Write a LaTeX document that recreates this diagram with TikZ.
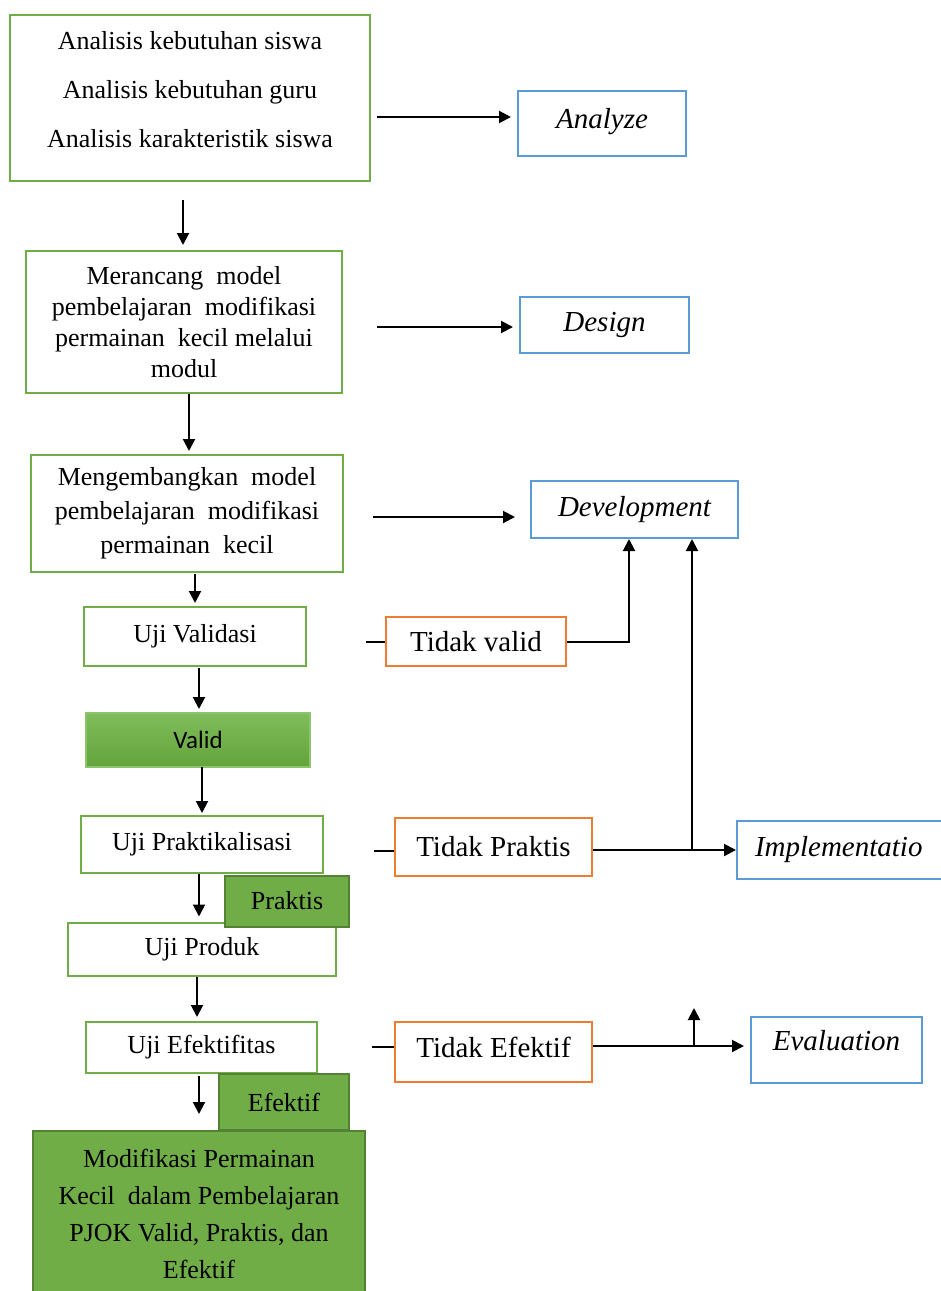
\documentclass[tikz,border=0pt]{standalone}
\usepackage{fontspec}
\setmainfont{Liberation Serif}
\newfontfamily\calfont{Carlito}
\usetikzlibrary{arrows.meta}
\definecolor{gb}{RGB}{112,173,71}
\definecolor{bb}{RGB}{91,155,213}
\definecolor{ob}{RGB}{237,125,49}
\definecolor{gfill}{RGB}{112,173,71}
\definecolor{gdark}{RGB}{84,130,53}
\definecolor{vtop}{RGB}{128,188,92}
\definecolor{vbot}{RGB}{99,164,58}
\definecolor{vedge}{RGB}{140,196,108}
\begin{document}
\begin{tikzpicture}[x=1pt,y=-1pt,
  base/.style={rectangle, inner sep=0pt, line width=2pt, align=center},
  gbox/.style={base, draw=gb, fill=white, font=\fontsize{26}{31}\selectfont},
  bbox/.style={base, draw=bb, fill=white, font=\itshape\fontsize{29}{34}\selectfont},
  obox/.style={base, draw=ob, fill=white, font=\fontsize{29}{34}\selectfont},
  fbox/.style={base, draw=gdark, fill=gfill, font=\fontsize{26}{31}\selectfont},
  sz/.style 2 args={minimum width=#1pt, minimum height=#2pt},
  arr/.style={line width=2pt, -{Triangle[length=12pt,width=12pt]}},
  ln/.style={line width=2pt}
]
\useasboundingbox (0,0) rectangle (941,1291);
\clip (0,0) rectangle (941,1291);

% left column
\node[gbox, sz={360}{166}] (A) at (190,98) {};
\node[base, font=\fontsize{26}{49}\selectfont] (Atext) at (190,90)
  {Analisis kebutuhan siswa\\Analisis kebutuhan guru\\Analisis karakteristik siswa};
\node[gbox, sz={316}{142}] (B) at (184,322)
  {Merancang\ \ model\\pembelajaran\ \ modifikasi\\permainan\ \ kecil melalui\\modul};
\node[gbox, sz={312}{117}, font=\fontsize{26}{34}\selectfont] (C) at (187,513.5)
  {Mengembangkan\ \ model\\pembelajaran\ \ modifikasi\\permainan\ \ kecil};
\node[gbox, sz={222}{59}] (UV) at (195,636.5) {Uji Validasi};
\node[base, draw=vedge, top color=vtop, bottom color=vbot, sz={224}{54},
  font=\calfont\fontsize{25}{30}\selectfont] (Valid) at (198,740) {Valid};
\node[gbox, sz={242}{57}] (UP) at (202,844.5) {Uji Praktikalisasi};
\node[gbox, sz={268}{53}] (UPr) at (202,949) {Uji Produk};
\node[fbox, sz={124}{51}] (Pr) at (287,901) {Praktis};
\node[gbox, sz={231}{51}] (UE) at (201.5,1047.5) {Uji Efektifitas};
\node[fbox, sz={130}{56}] (Ef) at (284,1102) {Efektif};
\node[fbox, sz={332}{166}, font=\fontsize{26}{37}\selectfont] (Final) at (199,1214)
  {Modifikasi Permainan\\Kecil\ \ dalam Pembelajaran\\PJOK Valid, Praktis, dan\\Efektif};

% right column
\node[bbox, sz={168}{65}, text height=20pt, text depth=11pt] (Analyze) at (602,123.5) {Analyze};
\node[bbox, sz={169}{56}] (Design) at (604.5,325) {Design};
\node[bbox, sz={207}{57}] (Dev) at (634.5,509.5) {Development};
\node[obox, sz={180}{49}] (TV) at (476,641.5) {Tidak valid};
\node[obox, sz={197}{58}] (TP) at (493.5,847) {Tidak Praktis};
\node[bbox, minimum height=58pt, text width=205pt, align=left, inner xsep=18pt,
  anchor=west] (Impl) at (736,849.5) {Implementatio};
\node[obox, sz={197}{60}, text height=20pt, text depth=10pt] (TE) at (493.5,1052) {Tidak Efektif};
\node[bbox, sz={171}{66}, text height=19pt, text depth=19pt] (Eval) at (836.5,1050) {Evaluation};

% connectors
\coordinate (pA) at (377,117);
\draw[arr, shorten >=6pt] (pA) -- (Analyze.west |- pA);
\coordinate (pB) at (183,200);
\draw[arr, shorten >=5pt] (pB) -- (pB |- B.north);
\coordinate (pD) at (377,327);
\draw[arr, shorten >=6pt] (pD) -- (Design.west |- pD);
\coordinate (pC) at (189,394);
\draw[arr, shorten >=3pt] (pC) -- (pC |- C.north);
\coordinate (pE) at (373,517);
\draw[arr, shorten >=15pt] (pE) -- (Dev.west |- pE);
\coordinate (pV) at (195,574);
\draw[arr, shorten >=3pt] (pV) -- (pV |- UV.north);

\coordinate (pTV) at (366,641.5);
\draw[ln] (pTV) -- (TV.west);
\coordinate (kTV) at (629,0);
\draw[arr] (TV.east) -| (kTV |- Dev.south);

\coordinate (pVa) at (199,668);
\draw[arr, shorten >=3pt] (pVa) -- (pVa |- Valid.north);
\coordinate (pUP) at (202,767);
\draw[arr, shorten >=2pt] (pUP) -- (pUP |- UP.north);

\coordinate (pTP) at (374,851);
\draw[ln] (pTP) -- (TP.west |- pTP);
\coordinate (kTP) at (692,850);
\draw[ln] (TP.east |- kTP) -- (kTP);
\draw[arr] (kTP) -- (Impl.west |- kTP);
\draw[arr] (kTP) -- (kTP |- Dev.south);

\coordinate (pPr) at (199,874);
\draw[arr, shorten >=5pt] (pPr) -- (pPr |- UPr.north);
\coordinate (pUE) at (197,977);
\draw[arr, shorten >=4pt] (pUE) -- (pUE |- UE.north);

\coordinate (pTE) at (372,1047);
\draw[ln] (pTE) -- (TE.west |- pTE);
\coordinate (kTE) at (694,1046);
\draw[ln] (TE.east |- kTE) -- (kTE);
\draw[arr, shorten >=6pt] (kTE) -- (Eval.west |- kTE);
\coordinate (uTE) at (694,1008);
\draw[arr] (kTE) -- (uTE);

\coordinate (pF) at (199,1076);
\draw[arr, shorten >=16pt] (pF) -- (pF |- Final.north);
\end{tikzpicture}
\end{document}
